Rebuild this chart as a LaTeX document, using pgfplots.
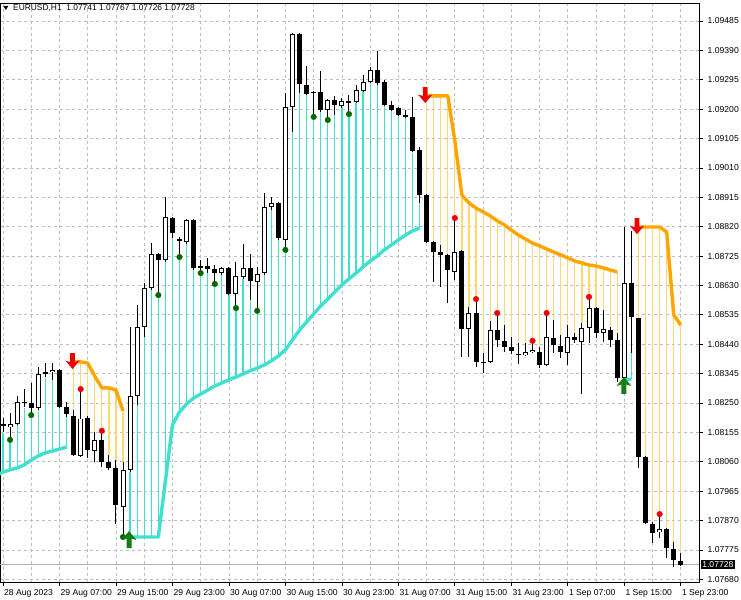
\documentclass[border=0pt]{standalone}
\usepackage{fontspec}
\setmainfont{Liberation Sans}
\usepackage{pgfplots}
\usepackage{pgfplotstable}
\pgfplotsset{compat=1.18}
\definecolor{turq}{RGB}{64,224,208}
\definecolor{orng}{RGB}{255,165,0}
\definecolor{goldl}{RGB}{252,216,112}
\definecolor{dgreen}{RGB}{0,105,0}
\definecolor{agreen}{RGB}{20,125,20}
\definecolor{gridc}{RGB}{190,190,190}
\definecolor{ared}{RGB}{240,0,0}

\pgfdeclareplotmark{dnarrow}{%
  \pgfpathmoveto{\pgfqpoint{0pt}{0pt}}%
  \pgfpathlineto{\pgfqpoint{-7.2pt}{8.5pt}}%
  \pgfpathlineto{\pgfqpoint{-2.4pt}{7pt}}%
  \pgfpathlineto{\pgfqpoint{-2.4pt}{16pt}}%
  \pgfpathlineto{\pgfqpoint{2.4pt}{16pt}}%
  \pgfpathlineto{\pgfqpoint{2.4pt}{7pt}}%
  \pgfpathlineto{\pgfqpoint{7.2pt}{8.5pt}}%
  \pgfpathclose\pgfusepathqfill}
\pgfdeclareplotmark{uparrow}{%
  \pgfpathmoveto{\pgfqpoint{0pt}{0pt}}%
  \pgfpathlineto{\pgfqpoint{-7.5pt}{-9pt}}%
  \pgfpathlineto{\pgfqpoint{-2.5pt}{-7.5pt}}%
  \pgfpathlineto{\pgfqpoint{-2.5pt}{-17pt}}%
  \pgfpathlineto{\pgfqpoint{2.5pt}{-17pt}}%
  \pgfpathlineto{\pgfqpoint{2.5pt}{-7.5pt}}%
  \pgfpathlineto{\pgfqpoint{7.5pt}{-9pt}}%
  \pgfpathclose\pgfusepathqfill}

% i open high low close upstop downstop greendot reddot
\pgfplotstableread{
i o h l c up dn gd rd
-0.5 nan nan nan nan 1.08021 nan nan nan
0 1.08179 1.08202 1.08156 1.08182 1.08027 nan nan nan
1 1.08173 1.08218 1.08131 1.08182 1.08034 nan 1.08131 nan
2 1.08182 1.08273 1.08179 1.08253 1.08040 nan nan nan
3 1.08253 1.08295 1.08237 1.08254 1.08050 nan nan nan
4 1.08250 1.08315 1.08215 1.08234 1.08066 nan 1.08211 nan
5 1.08234 1.08367 1.08228 1.08344 1.08079 nan nan nan
6 1.08347 1.08379 1.08334 1.08350 1.08089 nan nan nan
7 1.08350 1.08379 1.08325 1.08357 1.08095 nan nan nan
8 1.08357 1.08360 1.08234 1.08237 1.08101 nan nan nan
9 1.08237 1.08253 1.08205 1.08215 1.08108 nan nan nan
10 1.08211 1.08228 1.08079 1.08082 nan 1.08383 nan nan
11 1.08082 1.08292 1.08076 1.08202 nan 1.08383 nan 1.08295
12 1.08202 1.08208 1.08072 1.08098 nan 1.08379 nan nan
13 1.08098 1.08156 1.08059 1.08131 nan 1.08337 nan nan
14 1.08131 1.08160 1.08043 1.08059 nan 1.08299 nan 1.08160
15 1.08059 1.08082 1.08034 1.08040 nan 1.08299 nan nan
16 1.08040 1.08066 1.07859 1.07920 nan 1.08292 nan nan
17 1.07917 1.08059 1.07817 1.08034 1.07817 1.08224 1.07817 nan
18 1.08034 1.08496 1.08027 1.08273 1.07817 nan nan nan
19 1.08273 1.08567 1.08244 1.08496 1.07817 nan nan nan
20 1.08496 1.08638 1.08464 1.08622 1.07817 nan nan nan
21 1.08622 1.08767 1.08615 1.08732 1.07817 nan nan nan
22 1.08732 1.08735 1.08606 1.08712 1.07817 nan 1.08599 nan
23 1.08712 1.08916 1.08706 1.08851 1.07998 nan nan nan
24 1.08848 1.08851 1.08784 1.08800 1.08179 nan nan nan
25 1.08780 1.08787 1.08725 1.08774 1.08221 nan 1.08722 nan
26 1.08771 1.08845 1.08764 1.08842 1.08247 nan nan nan
27 1.08842 1.08845 1.08680 1.08687 1.08266 nan nan nan
28 1.08687 1.08712 1.08674 1.08693 1.08279 nan 1.08670 nan
29 1.08693 1.08719 1.08670 1.08683 1.08292 nan nan nan
30 1.08683 1.08696 1.08641 1.08670 1.08305 nan 1.08635 nan
31 1.08670 1.08690 1.08664 1.08687 1.08315 nan nan nan
32 1.08687 1.08690 1.08599 1.08603 1.08325 nan nan nan
33 1.08603 1.08706 1.08564 1.08661 1.08334 nan 1.08557 nan
34 1.08658 1.08764 1.08651 1.08687 1.08344 nan nan nan
35 1.08687 1.08732 1.08583 1.08645 1.08354 nan nan nan
36 1.08641 1.08690 1.08551 1.08667 1.08363 nan 1.08548 nan
37 1.08670 1.08929 1.08664 1.08884 1.08373 nan nan nan
38 1.08884 1.08916 1.08874 1.08897 1.08386 nan nan nan
39 1.08897 1.08900 1.08777 1.08784 1.08402 nan nan nan
40 1.08777 1.09252 1.08748 1.09207 1.08422 nan 1.08745 nan
41 1.09207 1.09446 1.09126 1.09443 1.08454 nan nan nan
42 1.09443 1.09446 1.09252 1.09281 1.08486 nan nan nan
43 1.09281 1.09340 1.09246 1.09252 1.08512 nan nan nan
44 1.09255 1.09259 1.09181 1.09256 1.08538 nan 1.09175 nan
45 1.09255 1.09323 1.09191 1.09197 1.08564 nan nan nan
46 1.09197 1.09233 1.09171 1.09230 1.08586 nan 1.09165 nan
47 1.09230 1.09243 1.09181 1.09213 1.08609 nan nan nan
48 1.09210 1.09236 1.09204 1.09226 1.08632 nan nan nan
49 1.09220 1.09246 1.09188 1.09226 1.08651 nan 1.09184 nan
50 1.09223 1.09278 1.09220 1.09262 1.08670 nan nan nan
51 1.09259 1.09310 1.09255 1.09288 1.08690 nan nan nan
52 1.09288 1.09336 1.09284 1.09326 1.08709 nan nan nan
53 1.09326 1.09388 1.09278 1.09284 1.08725 nan nan nan
54 1.09288 1.09294 1.09210 1.09213 1.08745 nan nan nan
55 1.09213 1.09226 1.09194 1.09197 1.08761 nan nan nan
56 1.09204 1.09207 1.09178 1.09181 1.08777 nan nan nan
57 1.09181 1.09197 1.09171 1.09175 1.08793 nan nan nan
58 1.09175 1.09239 1.09061 1.09065 1.08806 nan nan nan
59 1.09068 1.09078 1.08897 1.08922 1.08816 nan nan nan
60 1.08922 1.08926 1.08767 1.08771 nan 1.09243 nan nan
61 1.08771 1.08774 1.08641 1.08738 nan 1.09243 nan nan
62 1.08738 1.08761 1.08625 1.08729 nan 1.09243 nan nan
63 1.08729 1.08732 1.08573 1.08680 nan 1.09243 nan nan
64 1.08674 1.08848 1.08648 1.08738 nan 1.09097 nan 1.08848
65 1.08742 1.08745 1.08399 1.08489 nan 1.08922 nan nan
66 1.08489 1.08561 1.08399 1.08541 nan 1.08897 nan nan
67 1.08541 1.08586 1.08367 1.08383 nan 1.08880 nan 1.08586
68 1.08383 1.08412 1.08347 1.08382 nan 1.08868 nan nan
69 1.08383 1.08515 1.08379 1.08486 nan 1.08855 nan nan
70 1.08486 1.08541 1.08431 1.08454 nan 1.08839 nan 1.08541
71 1.08451 1.08502 1.08415 1.08431 nan 1.08826 nan nan
72 1.08431 1.08464 1.08409 1.08418 nan 1.08809 nan nan
73 1.08409 1.08444 1.08379 1.08408 nan 1.08793 nan nan
74 1.08405 1.08444 1.08402 1.08415 nan 1.08780 nan nan
75 1.08415 1.08451 1.08412 1.08422 nan 1.08767 nan 1.08451
76 1.08415 1.08431 1.08363 1.08373 nan 1.08758 nan nan
77 1.08373 1.08541 1.08370 1.08464 nan 1.08748 nan 1.08541
78 1.08460 1.08518 1.08412 1.08438 nan 1.08738 nan nan
79 1.08434 1.08470 1.08396 1.08415 nan 1.08729 nan nan
80 1.08412 1.08502 1.08373 1.08464 nan 1.08719 nan nan
81 1.08464 1.08476 1.08444 1.08454 nan 1.08709 nan nan
82 1.08447 1.08509 1.08279 1.08493 nan 1.08703 nan nan
83 1.08493 1.08593 1.08444 1.08557 nan 1.08696 nan 1.08593
84 1.08557 1.08561 1.08460 1.08476 nan 1.08693 nan nan
85 1.08476 1.08551 1.08447 1.08489 nan 1.08687 nan nan
86 1.08489 1.08496 1.08431 1.08454 nan 1.08680 nan nan
87 1.08454 1.08476 1.08318 1.08331 nan 1.08674 nan nan
88 1.08331 1.08819 1.08305 1.08638 1.08327 nan nan nan
89 1.08638 1.08809 1.08415 1.08528 1.08327 nan nan nan
90 1.08525 1.08525 1.08040 1.08076 nan 1.08819 nan nan
91 1.08076 1.08079 1.07859 1.07862 nan 1.08819 nan nan
92 1.07862 1.07865 1.07798 1.07833 nan 1.08819 nan nan
93 1.07833 1.07891 1.07814 1.07843 nan 1.08819 nan 1.07891
94 1.07843 1.07846 1.07749 1.07781 nan 1.08803 nan nan
95 1.07781 1.07801 1.07720 1.07743 nan 1.08535 nan nan
96 1.07741 1.07767 1.07726 1.07728 nan 1.08502 nan nan
}\bars

\newcommand{\lblfont}{\fontsize{8.6bp}{10bp}\selectfont}

\begin{document}
\begin{tikzpicture}
\useasboundingbox (0,0) rectangle (741bp,600bp);
\begin{axis}[
  at={(0bp,18bp)}, anchor=south west,
  scale only axis, width=699bp, height=578.5bp,
  xmin=-0.425, xmax=98.58, ymin=1.076715, ymax=1.095415,
  axis line style={black, line width=0.8bp},
  xtick={0,8,...,96},
  xticklabels={28 Aug 2023,29 Aug 07:00,29 Aug 15:00,29 Aug 23:00,30 Aug 07:00,30 Aug 15:00,30 Aug 23:00,31 Aug 07:00,31 Aug 15:00,31 Aug 23:00,1 Sep 07:00,1 Sep 15:00,1 Sep 23:00},
  minor xtick={4,12,...,92},
  ytick={1.07680,1.07775,1.07870,1.07965,1.08060,1.08155,1.08250,1.08345,1.08440,1.08535,1.08630,1.08725,1.08820,1.08915,1.09010,1.09105,1.09200,1.09295,1.09390,1.09485},
  yticklabels={1.07680,1.07775,1.07870,1.07965,1.08060,1.08155,1.08250,1.08345,1.08440,1.08535,1.08630,1.08725,1.08820,1.08915,1.09010,1.09105,1.09200,1.09295,1.09390,1.09485},
  scaled y ticks=false,
  xtick pos=bottom, ytick pos=right, yticklabel pos=right,
  tick align=outside,
  major tick length=4bp, minor tick length=0pt,
  tick style={black, line width=0.8bp},
  xmajorgrids, xminorgrids, ymajorgrids,
  major grid style={gridc, dash pattern=on 3bp off 3bp, line width=0.8bp},
  minor grid style={gridc, dash pattern=on 3bp off 3bp, line width=0.8bp},
  tick label style={font=\lblfont},
  xticklabel style={anchor=north west, inner sep=0pt, xshift=1bp, yshift=-3bp},
  yticklabel style={anchor=west, inner sep=0pt, xshift=4.5bp},
  /pgf/number format/assume math mode=true,
  clip=true,
]
% bid line
\addplot[gray!60, line width=0.8bp, forget plot] coordinates {(-1,1.07728) (100,1.07728)};
% indicator histogram lines
\addplot[draw=none, mark=none, forget plot, error bars/.cd, y dir=both, y explicit, error mark=none,
  error bar style={draw=turq, line width=1.2bp, solid}]
  table[x=i, y expr={(\thisrow{up}+\thisrow{l})/2}, y error expr={abs(\thisrow{up}-\thisrow{l})/2}] {\bars};
\addplot[draw=none, mark=none, forget plot, error bars/.cd, y dir=both, y explicit, error mark=none,
  error bar style={draw=goldl, line width=1.2bp, solid}]
  table[x=i, y expr={(\thisrow{dn}+\thisrow{h})/2}, y error expr={abs(\thisrow{dn}-\thisrow{h})/2}] {\bars};
% trailing stop lines
\addplot[turq, line width=3.4bp, line join=round, unbounded coords=jump, forget plot] table[x=i, y=up] {\bars};
\addplot[orng, line width=3.4bp, line join=round, unbounded coords=jump, forget plot] table[x=i, y=dn] {\bars};
% wicks
\addplot[draw=none, mark=none, forget plot, error bars/.cd, y dir=both, y explicit, error mark=none,
  error bar style={draw=black, line width=1bp, solid}]
  table[x=i, y expr={(\thisrow{h}+\thisrow{l})/2}, y error expr={(\thisrow{h}-\thisrow{l})/2}] {\bars};
% bodies (outline / filled)
\addplot[draw=none, mark=none, forget plot, error bars/.cd, y dir=both, y explicit, error mark=none,
  error bar style={draw=black, line width=5bp, solid}]
  table[x=i, y expr={(\thisrow{o}+\thisrow{c})/2}, y error expr={max(abs(\thisrow{o}-\thisrow{c})/2,0.000016)}] {\bars};
% hollow inside of rising candles
\addplot[draw=none, mark=none, forget plot, error bars/.cd, y dir=both, y explicit, error mark=none,
  error bar style={draw=white, line width=3bp, solid}]
  table[x expr={\thisrow{c}>\thisrow{o} ? \thisrow{i} : nan}, y expr={(\thisrow{o}+\thisrow{c})/2}, y error expr={max((\thisrow{c}-\thisrow{o})/2-0.000031,0)}] {\bars};
% fractal dots
\addplot[only marks, mark=*, mark size=2.8bp, dgreen, forget plot] table[x=i, y=gd] {\bars};
\addplot[only marks, mark=*, mark size=2.8bp, ared, forget plot] table[x=i, y=rd] {\bars};
% signal arrows
\addplot[only marks, mark=dnarrow, ared, mark options={fill=ared, draw=none}, forget plot]
  coordinates {(9.85,1.08360) (59.8,1.09220) (89.8,1.08796)};
\addplot[only marks, mark=uparrow, agreen, mark options={fill=agreen, draw=none}, forget plot]
  coordinates {(17.85,1.07836) (87.95,1.08334)};
\coordinate (bid) at (axis cs:98.58,1.07728);
\end{axis}
\node[fill=black, text=white, anchor=west, inner sep=1.6bp, font=\lblfont] at ([xshift=1.5bp]bid) {1.07728};
\fill (3.3bp,594bp) -- (8.3bp,594bp) -- (5.8bp,590bp) -- cycle;
\node[anchor=west, inner sep=0pt, font=\fontsize{8.4bp}{10bp}\selectfont] at (13bp,592bp) {EURUSD,H1\ \ 1.07741 1.07767 1.07726 1.07728};
\end{tikzpicture}
\end{document}
